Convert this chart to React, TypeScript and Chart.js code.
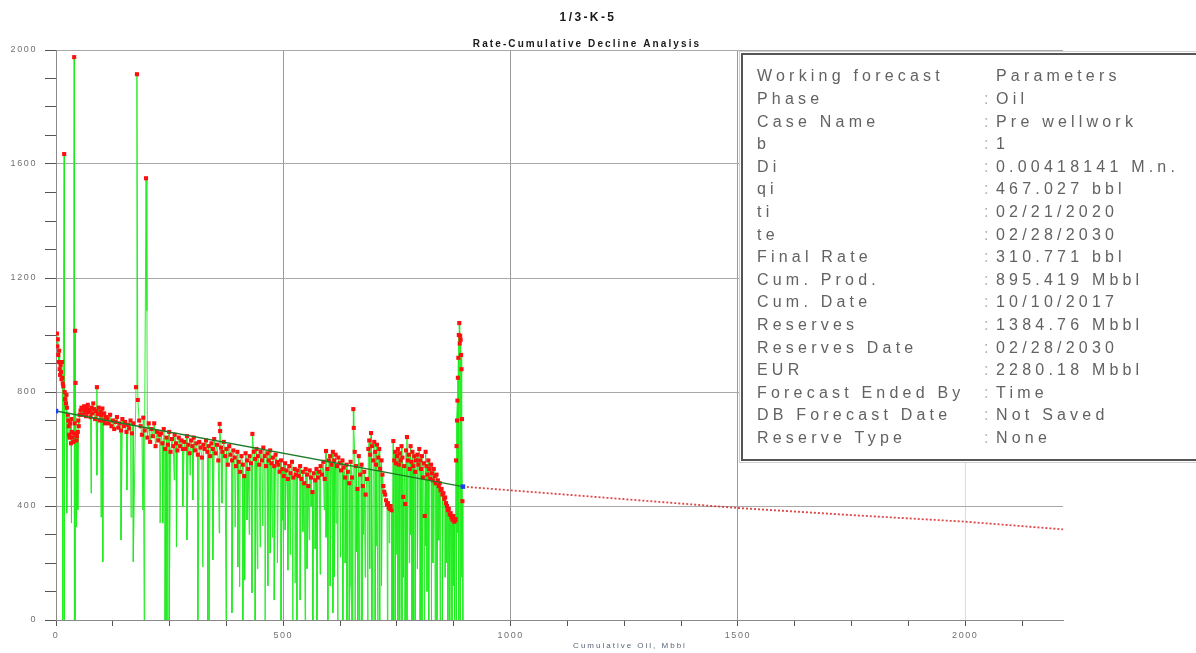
import React, { useEffect, useRef } from "react";
import { Chart, registerables } from "chart.js";

Chart.register(...registerables);

const FAMILY = "'Liberation Sans Narrow', 'Liberation Sans', Arial, sans-serif";

const TITLE = "1/3-K-5";
const SUBTITLE = "Rate-Cumulative Decline Analysis";
const X_TITLE = "Cumulative Oil, Mbbl";

// Production points (marked with red squares): cumulative oil (Mbbl) and rate
const prodCum = [
  2, 3, 4, 5, 6, 7, 8, 9, 10, 11, 12, 13, 14, 15, 16, 18,
  19, 20, 22, 23, 24, 26, 27, 28, 29, 30, 31, 33, 34, 35, 36, 38, 39, 40, 41, 42, 43, 44, 45, 46, 48, 49, 50, 52,
  54, 56, 58, 60, 62, 64, 66, 68, 70, 72, 74, 76, 78, 80, 82, 84, 86, 88, 90, 92, 94, 96, 98, 100, 102, 104, 106, 108, 110,
  113, 116, 119, 122, 125, 128, 131, 134, 137, 140, 143, 146, 149, 152, 155, 158, 161, 164, 167, 170,
  176, 178, 180,
  183, 186, 189, 192, 195, 198, 201, 204, 207, 210, 213, 216, 219, 222, 225, 228,
  231, 234, 237, 240, 243, 246, 249, 252, 255, 258, 261, 264, 267, 270, 273, 276, 279,
  282, 285, 288, 291, 294, 297, 300, 303, 306, 309, 312, 315, 318, 321, 324, 327, 330, 333, 336, 339,
  342, 345, 348, 351, 354, 357, 360, 361, 363, 366, 369, 372, 375, 378, 381, 384, 387, 390,
  393, 396, 399, 402, 405, 408, 411, 414, 417, 420, 423, 426, 429, 432,
  435, 438, 441, 444, 447, 450, 453, 456, 459, 462, 465, 468, 471, 474, 477, 480, 483, 486,
  489, 492, 495, 498, 501, 504, 507, 510, 513, 516, 519, 522, 525, 528,
  531, 534, 537, 540, 543, 546, 549, 552, 555, 558, 561, 564, 567, 570, 573, 576, 579,
  582, 585, 588, 591, 594, 597, 600, 603, 606, 609, 612, 615, 618, 621, 624, 627, 630, 633, 636, 639,
  642, 645, 648, 651, 654, 655, 657, 660, 663, 666, 669, 672, 675, 678, 681, 684,
  687, 689, 691, 693, 695, 698, 700, 702, 704, 706, 709, 711, 713, 716, 718,
  720, 722, 724, 726, 728, 730, 732, 734, 736, 738,
  742, 744, 746, 748, 750, 752, 754, 756, 758, 760, 762, 764, 766, 768, 770, 772, 774, 776, 778, 780, 782, 784, 786, 788, 790, 792,
  795, 797, 799, 801, 803, 805, 807, 809, 811, 813, 815, 817, 819, 821, 823, 825, 827, 829, 831, 833, 835, 837,
  840, 842, 844, 846, 848, 850, 852, 854, 856, 858, 860, 862, 864, 866, 868, 870, 872, 874, 876, 878,
  879, 880, 881, 882, 883, 884, 885, 886, 887, 888, 889, 890, 891, 892, 893, 894,
];
const prodRate = [
  1005, 960, 985, 930, 905, 945, 880, 860, 895, 870, 845, 905, 850, 830, 820, 1635,
  800, 775, 760, 790, 745, 720, 700, 680, 650, 640, 690, 620, 705, 660, 640, 625, 655, 1975, 690, 1015, 832, 650, 630, 645, 660, 700, 680, 720,
  735, 745, 720, 740, 750, 730, 715, 742, 755, 728, 738, 712, 745, 725, 760, 740, 705, 733, 817, 722, 745, 700, 730, 718, 742, 700, 725, 690, 712,
  705, 690, 720, 680, 700, 670, 695, 712, 675, 690, 665, 705, 680, 695, 660, 685, 672, 700, 655, 690,
  817, 1915, 772,
  700, 680, 650, 710, 665, 1550, 640, 690, 625, 670, 645, 690, 610, 660, 630, 650,
  655, 620, 670, 600, 640, 615, 660, 590, 635, 610, 650, 620, 595, 640, 610, 630, 600,
  625, 600, 645, 615, 585, 630, 610, 640, 595, 620, 580, 625, 605, 570, 615, 600, 630, 590, 610, 575,
  620, 600, 635, 585, 615, 560, 688, 663, 605, 590, 625, 575, 600, 545, 610, 580, 560, 595,
  570, 540, 590, 555, 520, 575, 545, 505, 585, 560, 530, 575, 550, 653,
  590, 565, 600, 575, 545, 590, 560, 605, 575, 540, 585, 560, 595, 550, 570, 540, 580, 555,
  545, 520, 560, 530, 505, 550, 525, 495, 540, 515, 555, 500, 530, 510,
  525, 505, 540, 495, 520, 480, 530, 510, 470, 525, 500, 449, 515, 490, 530, 500, 520,
  540, 510, 555, 495, 593, 530, 560, 575, 545, 590, 560, 580, 540, 570, 550, 525, 560, 535, 500, 545,
  520, 480, 555, 500, 740, 674, 590, 540, 460, 575, 510, 545, 470, 520, 440, 495,
  600, 630, 580, 656, 610, 560, 625, 590, 545, 615, 570, 600, 530, 560, 510,
  470, 450, 440, 420, 405, 410, 395, 390, 400, 385,
  628, 560, 590, 550, 575, 600, 545, 585, 560, 610, 570, 432, 540, 407, 595, 642, 560, 580, 530, 610, 555, 590, 540, 575, 520, 560,
  580, 545, 600, 560, 530, 575, 500, 550, 365, 590, 540, 510, 560, 530, 495, 545, 515, 490, 530, 505, 480, 510,
  490, 470, 480, 455, 460, 440, 445, 425, 430, 410, 400, 385, 390, 370, 375, 360, 352, 365, 345, 350,
  354, 560, 610, 700, 770, 850, 920, 1000, 1042, 970, 997, 983, 930, 880, 705, 417,
];

// Unmarked readings (shut-ins / partial days) drawn only as the green line
const dipCum = [
  15, 18, 24, 33, 40, 42, 44, 46, 48, 77, 90, 99, 103,
  143, 156, 165, 170, 191, 194, 200, 229, 235, 240, 244, 249,
  260, 265, 279, 288, 295, 301, 312, 323, 334, 337, 345, 359, 365,
  374, 387, 394, 400, 404, 411, 415, 420, 425, 431, 438, 443, 449, 455, 460, 466, 471, 476,
  480, 487, 495, 499, 504, 510, 515, 521, 526, 530, 537, 543, 548, 552, 557, 561, 565, 570,
  574, 581, 590, 594, 598, 603, 609, 612, 616, 620, 626, 631, 636, 640, 645, 647,
  651, 653, 658, 661, 664, 668, 673, 676, 680, 686, 690, 693, 697, 702, 705, 708, 712, 716, 729, 733,
  739, 742, 746, 749, 752, 756, 761, 764, 768, 772, 777, 780, 783, 786, 790, 795, 801, 805, 810,
  813, 816, 820, 825, 829, 834, 838, 842, 845, 850, 856, 858, 862, 866, 871, 874, 877, 880, 884, 886, 889,
  892, 895,
];
const dipRate = [
  0, 0, 375, 340, 0, 0, 326, 361, 386, 445, 508, 361, 204,
  281, 456, 361, 204, 386, 0, 1085, 340, 340, 0, 0, 0,
  491, 256, 397, 281, 508, 421, 0, 186, 0, 0, 211, 305, 410,
  0, 25, 326, 186, 116, 0, 140, 351, 300, 95, 0, 180, 256, 330, 0, 120, 235, 290,
  70, 200, 0, 350, 316, 175, 230, 0, 130, 0, 70, 310, 0, 180, 281, 400, 0, 250,
  0, 160, 386, 290, 0, 120, 25, 151, 340, 0, 220, 0, 200, 0, 0, 120,
  0, 0, 0, 240, 0, 0, 0, 300, 150, 0, 180, 0, 0, 0, 260, 0, 0, 120, 0, 270,
  0, 0, 0, 230, 0, 0, 0, 150, 0, 0, 200, 300, 0, 0, 0, 180, 0, 0, 0,
  260, 100, 0, 0, 200, 0, 0, 280, 0, 0, 150, 200, 0, 0, 0, 120, 0, 0, 305, 0, 0,
  150, 0,
];

// Fitted decline line over history
const trendCum = [0, 895];
const trendRate = [733, 468];

// Forecast
const forecastCum = [895, 1000, 1250, 1500, 1750, 2000, 2215];
const forecastRate = [468, 455, 424, 393, 368, 345, 318];

// Parameter box
const infoLabels = [
  "Working forecast", "Phase", "Case Name", "b", "Di", "qi", "ti", "te", "Final Rate",
  "Cum. Prod.", "Cum. Date", "Reserves", "Reserves Date", "EUR", "Forecast Ended By",
  "DB Forecast Date", "Reserve Type",
];
const infoValues = [
  "Parameters", "Oil", "Pre wellwork", "1", "0.00418141 M.n.", "467.027 bbl", "02/21/2020",
  "02/28/2030", "310.771 bbl", "895.419 Mbbl", "10/10/2017", "1384.76 Mbbl", "02/28/2030",
  "2280.18 Mbbl", "Time", "Not Saved", "None",
];

const X_MAX = 2215;
const Y_MAX = 2000;

export default function App() {
  const ref = useRef<HTMLCanvasElement | null>(null);

  useEffect(() => {
    const canvas = ref.current;
    if (!canvas) return;

    const prodPts: { x: number; y: number; m: number }[] = [];
    prodCum.forEach((x, i) => prodPts.push({ x, y: prodRate[i], m: 1 }));
    dipCum.forEach((x, i) => prodPts.push({ x, y: dipRate[i], m: 0 }));
    prodPts.sort((a, b) => a.x - b.x || b.m - a.m);

    const trend = trendCum.map((x, i) => ({ x, y: trendRate[i] }));
    const forecast = forecastCum.map((x, i) => ({ x, y: forecastRate[i] }));

    const setSpacing = (ctx: any, v: string) => {
      try { ctx.letterSpacing = v; } catch (e) { /* ignore */ }
    };

    const decor = {
      id: "decor",
      beforeDraw(chart: any) {
        const ctx = chart.ctx;
        ctx.save();
        ctx.fillStyle = "#ffffff";
        ctx.fillRect(0, 0, chart.width, chart.height);
        ctx.restore();
        setSpacing(ctx, "1.6px");
      },
      afterDraw(chart: any) {
        const ctx = chart.ctx;
        ctx.save();
        // titles
        ctx.textAlign = "center";
        ctx.textBaseline = "middle";
        ctx.fillStyle = "#1a1a1a";
        ctx.font = `bold 12px ${FAMILY}`;
        setSpacing(ctx, "2.4px");
        ctx.fillText(TITLE, 588, 18);
        ctx.font = `bold 10px ${FAMILY}`;
        setSpacing(ctx, "2.1px");
        ctx.fillText(SUBTITLE, 587, 44);
        // x axis title
        ctx.font = `8px ${FAMILY}`;
        ctx.fillStyle = "#5a6478";
        setSpacing(ctx, "2px");
        ctx.fillText(X_TITLE, 630, 646);

        // parameter box
        const bx = 741, by = 53, bw = 470, bh = 408;
        ctx.fillStyle = "#ffffff";
        ctx.fillRect(bx - 2, by - 2, bw + 4, bh + 4);
        ctx.strokeStyle = "#cfcfcf";
        ctx.lineWidth = 1;
        ctx.strokeRect(bx - 1.5, by - 1.5, bw + 3, bh + 3);
        ctx.strokeStyle = "#555555";
        ctx.lineWidth = 2;
        ctx.strokeRect(bx + 1, by + 1, bw, bh - 2);

        ctx.textAlign = "left";
        ctx.textBaseline = "middle";
        ctx.font = `16px ${FAMILY}`;
        setSpacing(ctx, "4.2px");
        const rowH = 22.6;
        infoLabels.forEach((lab, i) => {
          const y = 77 + i * rowH;
          ctx.fillStyle = "#626262";
          ctx.fillText(lab, 757, y);
          if (i > 0) {
            ctx.fillStyle = "#b0b0b0";
            ctx.fillText(":", 984, y);
          }
          ctx.fillStyle = "#626262";
          ctx.fillText(infoValues[i], 996, y);
        });
        ctx.restore();
      },
    };

    const chart = new Chart(canvas, {
      type: "line",
      data: {
        datasets: [
          {
            label: "Trend",
            data: trend,
            borderColor: "#1f7a25",
            borderWidth: 1.5,
            pointStyle: "rect",
            pointRadius: 3.2,
            pointBackgroundColor: "#1e3cff",
            pointBorderWidth: 0,
            tension: 0,
          },
          {
            label: "Forecast",
            data: forecast,
            borderColor: "rgba(215,40,40,0.85)",
            borderWidth: 1.8,
            borderDash: [2, 2],
            pointRadius: 0,
            tension: 0,
          },
          {
            label: "Oil rate",
            data: prodPts,
            borderColor: "rgba(30,235,30,0.9)",
            borderWidth: 1,
            pointStyle: "rect",
            pointRadius: (c: any) => (c.raw && c.raw.m ? 2.9 : 0),
            pointBackgroundColor: "#ff1010",
            pointBorderWidth: 0,
            tension: 0,
          },
        ],
      },
      options: {
        responsive: false,
        animation: false,
        events: [],
        layout: { padding: { top: 50, right: 133, left: 0, bottom: 0 } },
        plugins: {
          legend: { display: false },
          title: { display: false },
          tooltip: { enabled: false },
        },
        scales: {
          x: {
            type: "linear",
            min: 0,
            max: X_MAX,
            afterFit: (s: any) => { s.height = 33; },
            ticks: {
              stepSize: 125,
              includeBounds: false,
              autoSkip: false,
              maxRotation: 0,
              padding: 4,
              color: "#707070",
              font: { size: 9, family: FAMILY },
              callback: (v: any) => (Number(v) % 500 === 0 ? String(v) : ""),
            },
            grid: {
              color: (c: any) => {
                const v = c.tick ? c.tick.value : -1;
                if (v === 2000) return "#dddddd";
                if (v > 0 && v % 500 === 0) return "#9a9a9a";
                return "rgba(0,0,0,0)";
              },
              tickColor: "#555555",
              tickLength: 6,
            },
            border: { color: "#8a8a8a", width: 1 },
          },
          y: {
            type: "linear",
            min: 0,
            max: Y_MAX,
            afterFit: (s: any) => { s.width = 56; },
            ticks: {
              stepSize: 100,
              autoSkip: false,
              padding: 8,
              color: "#707070",
              font: { size: 9, family: FAMILY },
              callback: (v: any) => (Number(v) % 400 === 0 ? String(v) : ""),
            },
            grid: {
              color: (c: any) => {
                const v = c.tick ? c.tick.value : -1;
                if (v > 0 && v % 400 === 0) return "#a8a8a8";
                return "rgba(0,0,0,0)";
              },
              tickColor: "#555555",
              tickLength: 11,
            },
            border: { color: "#8a8a8a", width: 1 },
          },
        },
      },
      plugins: [decor],
    });

    return () => chart.destroy();
  }, []);

  return (
    <div style={{ position: "fixed", left: 0, top: 0, width: 1196, height: 653, background: "#fff" }}>
      <canvas ref={ref} width={1196} height={653} style={{ display: "block" }} />
    </div>
  );
}
